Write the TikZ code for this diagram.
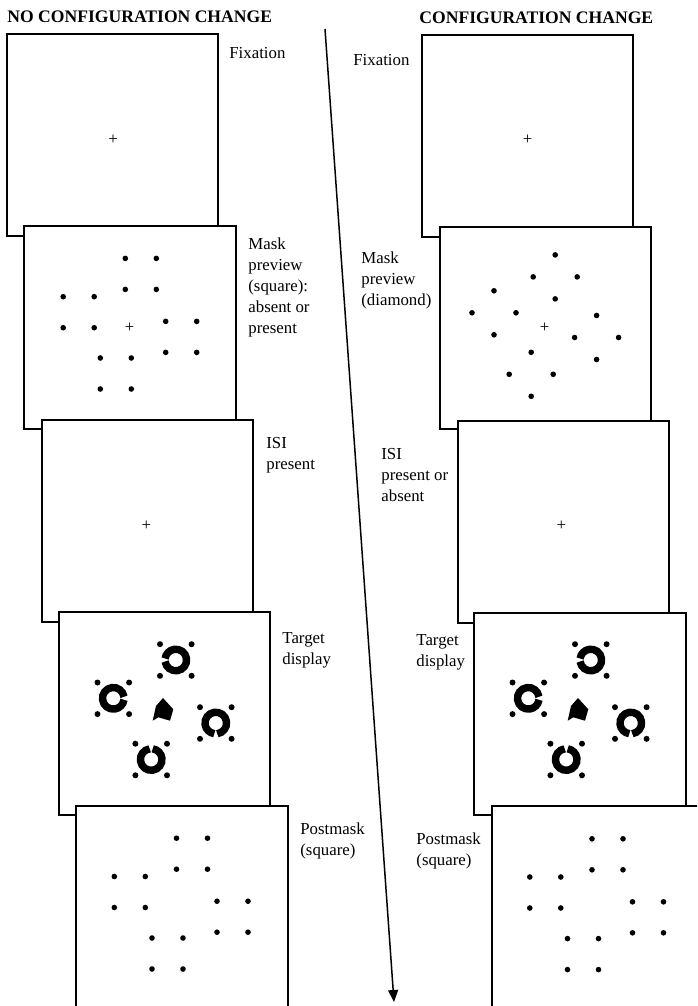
\documentclass[tikz,border=0pt]{standalone}
\usepackage{fontspec}
\setmainfont{Liberation Serif}
\usetikzlibrary{arrows.meta}

\begin{document}
\begin{tikzpicture}[x=0.5pt, y=-0.5pt,
    frame/.style={draw, fill=white, line width=1pt},
    lbl/.style={anchor=north west, inner sep=0pt, align=left,
                font=\fontsize{8.4}{10.5}\selectfont},
    head/.style={anchor=base west, inner sep=0pt,
                 font=\fontsize{8.8}{10}\selectfont\bfseries},
    fix/.style={inner sep=0pt, font=\fontsize{8.4}{10}\selectfont},
    dot/.style={fill=black},
    ring/.style={line width=3.7pt},
    arr/.style={-{Triangle[length=6pt, width=5pt]}, line width=0.75pt}
]
\useasboundingbox (0,0) rectangle (697,1006);
\clip (0,0) rectangle (697,1006);

% ---- Headers ----
\node[head] (hno)  at (7,23)   {NO CONFIGURATION CHANGE};
\node[head] (hyes) at (419,24) {CONFIGURATION CHANGE};

% ---- Time arrow ----
\coordinate (ttop) at (325,29);
\coordinate (tbot) at (394,1002);
\draw[arr] (ttop) -- (tbot);

% ---- Frames, left column ----
\draw[frame] (7,34)   rectangle (218,236);
\draw[frame] (24,226) rectangle (236,429);
\draw[frame] (42,420) rectangle (253,622);
\draw[frame] (59,612) rectangle (270,815);
\draw[frame] (76,806) rectangle (288,1008);

% ---- Frames, right column ----
\draw[frame] (422,35)  rectangle (633,237);
\draw[frame] (440,227) rectangle (651,429);
\draw[frame] (458,421) rectangle (669,623);
\draw[frame] (474,613) rectangle (686,815);
\draw[frame] (492,806) rectangle (703,1008);

% ---- Fixation crosses ----
\node[fix] (lc1) at (113,140)     {+};
\node[fix] (lc2) at (129.7,327.7) {+};
\node[fix] (lc3) at (146.3,526)   {+};
\node[fix] (rc1) at (527.5,140)   {+};
\node[fix] (rc2) at (544.7,327.7) {+};
\node[fix] (rc3) at (561.3,526)   {+};

% ---- Square masks (preview left, postmasks) ----
\foreach \gx/\gy in {140.8/273.9, 78.7/312.2, 181.2/336.9, 115.8/373.5,
                     192/853.7, 129.8/892, 232.5/916.7, 167.5/953.5,
                     607.5/854.3, 545.3/892.5, 648/917.3, 583/954.1}
  \foreach \dx/\dy in {-15.5/-15.5, 15.5/-15.5, -15.5/15.5, 15.5/15.5}
    \fill[dot] (\gx+\dx,\gy+\dy) circle[radius=1.4pt];

% ---- Diamond mask (preview right) ----
\foreach \gx/\gy in {555.2/276.9, 494/312.8, 596.6/337.5, 531.2/374.3}
  \foreach \dx/\dy in {0/-22, -22/0, 22/0, 0/22}
    \fill[dot] (\gx+\dx,\gy+\dy) circle[radius=1.4pt];

% ---- Target displays ----
\foreach \cx/\cy/\g in {175.8/660/180, 113.3/698.3/0, 215.8/723/270, 151.2/759.5/90,
                        590.8/660/180, 528.3/698.3/0, 630.8/723/270, 566.2/759.5/90}{
  \draw[ring] (\cx,\cy) ++({\g+8}:5.4pt) arc[start angle=\g+8, end angle=\g+352, radius=5.4pt];
  \foreach \dx/\dy in {-15.8/-15.8, 15.8/-15.8, -15.8/15.8, 15.8/15.8}
    \fill[dot] (\cx+\dx,\cy+\dy) circle[radius=1.5pt];
}
\foreach \s in {0,415}
  \fill[shift={(\s,0)}] (163,698) -- (173.3,709.3) -- (170,720.7) -- (158.3,717.3)
        -- (152.7,720.7) -- (156,706) -- cycle;

% ---- Labels, left column ----
\node[lbl] (lfix)  at (229,47)  {Fixation};
\node[lbl] (lmask) at (248,237) {Mask\\preview\\(square):\\absent or\\present};
\node[lbl] (lisi)  at (266,437) {ISI\\present};
\node[lbl] (ltgt)  at (282,632) {Target\\display};
\node[lbl] (lpost) at (300,822) {Postmask\\(square)};

% ---- Labels, right column ----
\node[lbl] (rfix)  at (353,54)  {Fixation};
\node[lbl] (rmask) at (361,251) {Mask\\preview\\(diamond)};
\node[lbl] (risi)  at (381,448) {ISI\\present or\\absent};
\node[lbl] (rtgt)  at (416,634) {Target\\display};
\node[lbl] (rpost) at (416,832) {Postmask\\(square)};

\end{tikzpicture}
\end{document}
